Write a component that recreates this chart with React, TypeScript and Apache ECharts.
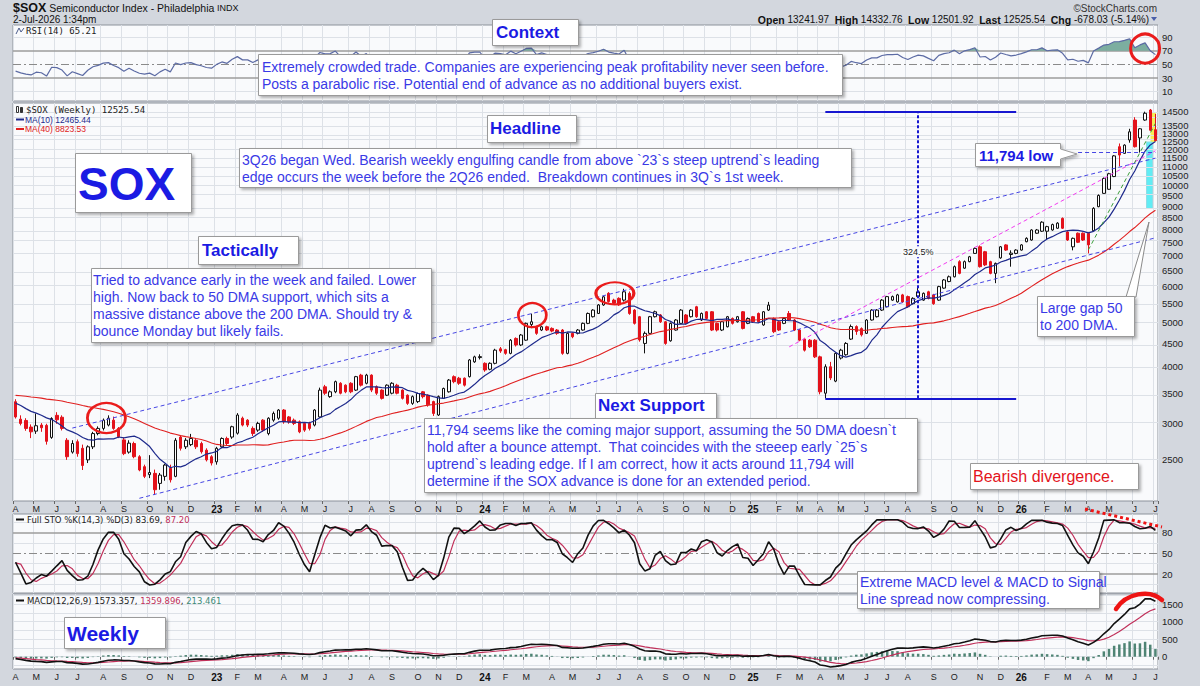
import React, { useEffect, useRef } from "react";
import * as echarts from "echarts";

// ---------- data ----------
// warm-up weekly closes before the first visible week (used only to seed MAs / oscillators)
const priorCloses = [3260, 3300, 3340, 3380, 3350, 3420, 3400, 3480, 3460, 3410, 3330, 3280, 3320, 3380, 3460, 3530, 3640, 3780, 3830, 3760, 3700, 3800, 3720, 3780, 3860, 3730, 3500, 3360, 3230, 3380, 3400, 3450, 3330, 3250, 3280, 3150, 3350, 3520, 3460];

// weekly candles [open, close, low, high]; first week ends Fri 8-Apr-2022
const ohlc2022 = [
  [3353,3105,3080,3395],[3070,3005,2975,3130],[3050,2930,2895,3085],[2950,2880,2790,2990],[2890,2970,2850,3160],
  [2980,2940,2880,3010],[2975,2745,2700,3000],[2800,3080,2780,3100],[3130,3060,3000,3180],[3100,2930,2900,3130],
  [2760,2540,2500,2790],[2600,2715,2580,2760],[2740,2580,2540,2770],[2650,2430,2375,2700],[2500,2670,2460,2690],
  [2670,2855,2640,2880],[2855,2930,2830,2960],[2930,3055,2900,3080],[2980,3085,2960,3130],[3055,2930,2910,3110],
  [2930,2810,2790,2950],[2765,2580,2560,2800],[2600,2720,2580,2760],[2715,2540,2520,2740],[2540,2375,2360,2560],
  [2415,2300,2280,2440],[2320,2345,2280,2560],[2335,2150,2093,2380],[2220,2315,2150,2340],[2300,2435,2250,2450],
  [2395,2260,2230,2440],[2300,2760,2290,2790],[2805,2650,2620,2830],[2670,2760,2640,2790],[2700,2785,2680,2850],
  [2760,2670,2640,2790],[2715,2605,2580,2740],[2625,2500,2480,2650],[2540,2460,2430,2560],
];
const ohlc2023 = [
  [2475,2650,2440,2670],[2670,2785,2650,2800],[2785,2715,2690,2810],[2805,2955,2780,2970],[2860,3135,2840,3165],
  [3085,2980,2960,3110],[3055,2980,2950,3070],[2930,2855,2820,2960],[2905,3005,2880,3030],[3055,2905,2880,3070],
  [2855,3085,2830,3100],[3055,3160,3030,3190],[3085,3215,3060,3230],[3215,3030,3000,3230],[3105,3030,3000,3120],
  [3055,3005,2980,3080],[3030,2880,2860,3050],[3005,2905,2880,3020],[3005,2930,2900,3030],[2980,3215,2960,3230],
  [3105,3555,3090,3600],[3615,3500,3470,3650],[3440,3525,3420,3550],[3525,3710,3500,3730],[3680,3500,3480,3700],
  [3645,3525,3500,3660],[3680,3525,3500,3700],[3555,3805,3540,3820],[3835,3645,3620,3860],[3680,3835,3660,3860],
  [3835,3555,3520,3850],[3615,3500,3470,3640],[3555,3410,3390,3570],[3465,3645,3450,3660],[3500,3680,3480,3700],
  [3645,3500,3480,3670],[3555,3410,3390,3570],[3465,3325,3300,3480],[3325,3440,3300,3460],[3355,3495,3330,3510],
  [3525,3440,3410,3540],[3465,3300,3270,3480],[3355,3160,3120,3370],[3135,3440,3120,3460],[3410,3585,3400,3600],
  [3525,3740,3510,3760],[3805,3710,3680,3830],[3775,3680,3650,3800],[3775,3645,3620,3790],[3805,4140,3790,4160],
  [4100,4205,4080,4230],[4190,4210,4150,4260],
];
const ohlc2024 = [
  [4070,3935,3900,4090],[3950,4070,3930,4090],[4070,4350,4050,4380],[4380,4330,4290,4420],[4360,4280,4250,4380],
  [4280,4575,4260,4600],[4615,4465,4430,4640],[4465,4695,4440,4720],[4575,4980,4560,5000],[4950,5020,4860,5230],
  [4895,4735,4700,4920],[4815,4895,4790,4920],[4895,4815,4790,4920],[4855,4790,4760,4880],[4815,4735,4700,4840],
  [4815,4280,4250,4840],[4280,4735,4260,4760],[4735,4655,4620,4760],[4735,4815,4710,4840],[4815,4980,4800,5000],
  [4980,5235,4960,5260],[5150,5325,5130,5350],[5235,5465,5220,5490],[5465,5695,5440,5720],[5795,5560,5530,5830],
  [5600,5510,5480,5640],[5650,5465,5440,5680],[5600,5840,5560,5930],[5795,5235,5200,5850],[5325,4980,4950,5350],
  [5150,4580,4540,5170],[4500,4735,4280,4780],[4735,5150,4720,5170],[5150,5280,5130,5310],[5195,5020,4990,5220],
  [5020,4500,4470,5040],[4560,4980,4540,5000],[4815,5065,4800,5090],[4980,5325,4960,5350],[5195,4980,4950,5220],
  [5150,5325,5130,5350],[5415,5150,5120,5440],[5065,5235,5040,5260],[5280,5105,5080,5300],[5280,4815,4790,5300],
  [4980,4815,4780,5000],[4815,5020,4790,5040],[4895,5150,4880,5170],[5105,4980,4950,5130],[5020,5150,5000,5170],
  [5280,4855,4830,5300],[4980,5105,4960,5130],
];
const ohlc2025 = [
  [5150,5020,4990,5170],[5235,5020,4990,5260],[4940,5280,4920,5300],[5325,5460,5300,5550],[5105,4775,4740,5130],
  [5020,4815,4790,5040],[4980,5105,4960,5130],[5235,5065,5040,5300],[5065,4815,4790,5090],[4815,4575,4550,4840],
  [4600,4350,4320,4630],[4575,4425,4400,4600],[4575,4205,4180,4600],[4205,3525,3480,4230],[3500,4000,3410,4050],
  [4000,3780,3740,4100],[3720,4280,3700,4300],[4180,4350,4150,4380],[4250,4500,4230,4530],[4600,4900,4580,4950],
  [4900,4780,4700,4930],[4850,4700,4660,4880],[4735,5065,4720,5090],[5065,5325,5050,5350],[5150,5325,5130,5350],
  [5325,5600,5300,5630],[5415,5700,5400,5720],[5600,5700,5580,5730],[5550,5750,5530,5780],[5750,5550,5520,5780],
  [5700,5415,5390,5730],[5500,5650,5480,5680],[5700,5840,5680,6000],[5600,5795,5580,5820],[5840,5650,5620,5870],
  [5750,5500,5470,5780],[5600,5995,5580,6020],[5950,6200,5930,6230],[6150,6300,6130,6340],[6300,6630,6280,6670],
  [6800,6410,6380,6850],[6580,6800,6560,6840],[6800,6970,6780,7000],[7090,7270,7070,7310],[7330,6630,6600,7380],
  [7150,6690,6650,7180],[6800,6410,6380,6830],[6410,6740,6100,6770],[6930,7330,6900,7360],[7400,7210,7180,7430],
  [7050,7100,6630,7200],[7090,7210,7060,7240],
];
const ohlc2026 = [
  [7210,7400,7190,7430],[7520,7650,7500,7690],[7585,7980,7560,8010],[7850,7980,7830,8020],[7930,8300,7900,8340],
  [7930,8115,7585,8150],[7980,8200,7950,8240],[8050,8260,8030,8300],[8460,8050,8020,8500],[7900,7585,7550,7930],
  [7330,7650,7200,7680],[7850,7500,7470,7880],[7850,7585,7550,7880],[7845,7400,7090,7880],[7950,8900,7920,8950],
  [8975,9500,8950,9550],[9600,10350,9580,10400],[9800,10600,9780,10650],[10450,11600,10420,11650],[12150,11650,11000,12350],
  [11750,12250,11720,12300],[12570,13100,12400,13300],[13900,12150,12100,14100],[12700,13300,11794,13350],[13900,14385,13850,14500],
  [14625,13204,13150,14700],[13242,12526,12502,14333],
];

const priceTicks = [2500, 3000, 3500, 4000, 4500, 5000, 5500, 6000, 6500, 7000, 7500, 8000, 8500, 9000, 9500, 10000, 10500, 11000, 11500, 12000, 12500, 13000, 13500, 14000, 14500];
const rsiTicks = [10, 30, 50, 70, 90];
const stoTicks = [20, 50, 80];
const macdTicks = [0, 500, 1000, 1500];
const monthLetters = ["J", "F", "M", "A", "M", "J", "J", "A", "S", "O", "N", "D"];

// drawn annotations, in [week index, price]
const upperChannel = [[11, 2935], [221, 11468]];
const lowerChannel = [[24, 2059], [221, 7669]];
const steepUptrend = [[150, 4423], [221, 11902]];
const greenUpper = [[203, 7524], [221, 17087]];
const greenLower = [[208, 7215], [221, 13668]];
const supportLine = [[206, 11794], [221, 11794]];
const measureLow = 3410, measureHigh = 14475;
const circles = [
  { i: 18, p: 3087, size: [38, 30], off: [-2, 0] },
  { i: 100, p: 5194, size: [28, 24], off: [1, 0] },
  { i: 116, p: 5795, size: [38, 22], off: [1, 0] },
];

// ---------- derived ----------
const ohlc = [...ohlc2022, ...ohlc2023, ...ohlc2024, ...ohlc2025, ...ohlc2026];
const N = ohlc.length;
const P = priorCloses.length;
const allC = [...priorCloses, ...ohlc.map((r) => r[1])];
const allH = [...priorCloses, ...ohlc.map((r) => r[3])];
const allL = [...priorCloses, ...ohlc.map((r) => r[2])];

const weekDates: string[] = [];
const monthLabels: string[] = [];
const monthStart: boolean[] = [];
{
  const d0 = Date.UTC(2022, 3, 8);
  let prevM = -1;
  for (let i = 0; i < N; i++) {
    const d = new Date(d0 + i * 7 * 86400000);
    const m = d.getUTCMonth();
    weekDates.push(d.toISOString().slice(0, 10));
    const st = m !== prevM;
    monthStart.push(st);
    monthLabels.push(st ? (m === 0 ? `{yr|${String(d.getUTCFullYear()).slice(2)}}` : monthLetters[m]) : "");
    prevM = m;
  }
}

const smaAt = (arr: number[], n: number, j: number) => {
  let s = 0;
  for (let k = j - n + 1; k <= j; k++) s += arr[k];
  return s / n;
};
const ema = (arr: number[], n: number) => {
  const k = 2 / (n + 1);
  const out: number[] = [];
  let e = arr[0];
  arr.forEach((v, j) => {
    e = j === 0 ? v : e + k * (v - e);
    out.push(e);
  });
  return out;
};

const ma10 = ohlc.map((_, i) => smaAt(allC, 10, P + i));
const ma40 = ohlc.map((_, i) => smaAt(allC, 40, P + i));

const e12 = ema(allC, 12), e26 = ema(allC, 26);
const macdAll = allC.map((_, j) => e12[j] - e26[j]);
const sigAll = ema(macdAll, 9);
const macd = macdAll.slice(P);
const signal = sigAll.slice(P);
const hist = macd.map((v, i) => v - signal[i]);

const rsiAll: (number | null)[] = allC.map(() => null);
{
  let ag = 0, al = 0;
  for (let j = 1; j < allC.length; j++) {
    const ch = allC[j] - allC[j - 1];
    const g = Math.max(ch, 0), l = Math.max(-ch, 0);
    if (j <= 14) { ag += g / 14; al += l / 14; }
    else { ag = (ag * 13 + g) / 14; al = (al * 13 + l) / 14; }
    if (j >= 14) rsiAll[j] = al === 0 ? 100 : 100 - 100 / (1 + ag / al);
  }
}
const rsi = rsiAll.slice(P) as number[];

const rawK = allC.map((c, j) => {
  if (j < 13) return 50;
  let hh = -Infinity, ll = Infinity;
  for (let k = j - 13; k <= j; k++) { hh = Math.max(hh, allH[k]); ll = Math.min(ll, allL[k]); }
  return hh === ll ? 50 : ((c - ll) / (hh - ll)) * 100;
});
const fullK = rawK.map((_, j) => (j < 2 ? rawK[j] : (rawK[j] + rawK[j - 1] + rawK[j - 2]) / 3));
const fullD = fullK.map((_, j) => (j < 2 ? fullK[j] : (fullK[j] + fullK[j - 1] + fullK[j - 2]) / 3));
const stoK = fullK.slice(P);
const stoD = fullD.slice(P);

// ---------- styling ----------
const FONT = '"Liberation Sans", Arial, Helvetica, sans-serif';
const NARROW = '"Liberation Sans Narrow", "Liberation Sans", Arial, sans-serif';
const MONO = '"DejaVu Sans Mono", monospace';
const DV = '"DejaVu Sans", Verdana, sans-serif';
const PANEL_BG = "#f9fafc";
const GRID_C = "#dde1e7";
const OUTER_BG = "#d3d7de";
const BORDER = "#8c929b";
const TITLE_BLUE = "#1b1be3";
const BODY_BLUE = "#3a3ae6";
const lg = Math.log10;

const isMonthStart = (idx: number) => !!monthStart[idx];
const empty = ohlc.map(() => null);

function xAxisFor(gi: number, labels: boolean) {
  return {
    type: "category", gridIndex: gi, data: weekDates, boundaryGap: true,
    axisLine: { show: false },
    axisTick: { show: labels, interval: isMonthStart, length: 3, lineStyle: { color: "#666" } },
    axisLabel: {
      show: labels, interval: isMonthStart, margin: 3, fontSize: 9, fontFamily: FONT, color: "#222",
      formatter: (_v: string, idx: number) => monthLabels[idx],
      rich: { yr: { fontSize: 10, fontWeight: "bold", color: "#111", fontFamily: FONT } },
    },
    splitLine: { show: true, interval: isMonthStart, lineStyle: { color: GRID_C, width: 1 } },
  };
}
function yAxisFor(gi: number, min: number, max: number, ticks: number[], fmt?: (v: number) => string, size = 9.5) {
  return {
    type: "value", gridIndex: gi, position: "right", min, max,
    axisLine: { show: false }, axisTick: { show: false }, splitLine: { show: false },
    axisLabel: {
      customValues: ticks, formatter: fmt ?? ((v: number) => String(Math.round(v))),
      showMinLabel: true, showMaxLabel: true, hideOverlap: false,
      fontSize: size, fontFamily: FONT, color: "#222", margin: 4,
    },
  };
}
const hline = (v: number, color = GRID_C, width = 1, type: any = "solid") => ({ yAxis: v, lineStyle: { color, width, type } });
function guide(gi: number, lines: any[]) {
  return {
    type: "line", xAxisIndex: gi, yAxisIndex: gi, data: empty, symbol: "none", silent: true,
    lineStyle: { opacity: 0 },
    markLine: { z: 1, silent: true, symbol: ["none", "none"], label: { show: false }, data: lines },
  };
}
const seg = (a: number[], b: number[], lineStyle: any) => [
  { coord: [a[0], lg(a[1])], lineStyle },
  { coord: [b[0], lg(b[1])] },
];
const DASHDOT = [8, 3, 2, 3];

// ---------- graphic helpers ----------
const txt = (x: number, y: number, text: string, o: any = {}) => ({
  type: "text", x, y, z: o.z ?? 22, silent: true,
  style: {
    text, fill: o.color ?? "#222", fontSize: o.size ?? 14, fontFamily: o.family ?? FONT,
    fontWeight: o.weight ?? "normal", align: o.align ?? "left", textAlign: o.align ?? "left",
    verticalAlign: "middle", textVerticalAlign: "middle", rich: o.rich,
  },
});
const box = (x: number, y: number, w: number, h: number) => ({
  type: "rect", z: 20, silent: true,
  shape: { x: x + 0.5, y: y + 0.5, width: w, height: h },
  style: { fill: "#ffffff", stroke: "#9a9a9a", lineWidth: 1, shadowBlur: 3, shadowOffsetX: 2, shadowOffsetY: 2, shadowColor: "rgba(0,0,0,0.3)" },
});
const lines = (x: number, y0: number, step: number, arr: string[], o: any) => arr.map((t, k) => txt(x, y0 + k * step, t, o));

function buildGraphics() {
  const g: any[] = [];
  // header
  g.push(txt(13, 8, "{a|$SOX} {b|Semiconductor Index - Philadelphia} {c|INDX}", {
    size: 10, family: NARROW, color: "#111",
    rich: { a: { fontSize: 12.5, fontWeight: "bold", fontFamily: FONT, fill: "#111" }, b: { fontSize: 10.5, fontFamily: NARROW, fill: "#111" }, c: { fontSize: 9, fontFamily: FONT, fill: "#111" } },
  }));
  g.push(txt(13, 19.5, "2-Jul-2026 1:34pm", { size: 10, family: NARROW, color: "#111" }));
  g.push(txt(1157, 8, "\u00A9StockCharts.com", { size: 10, family: FONT, color: "#333", align: "right" }));
  g.push(txt(1149, 19.5, "{b|Open} 13241.97  {b|High} 14332.76  {b|Low} 12501.92  {b|Last} 12525.54  {b|Chg} -678.03 (-5.14%)", {
    size: 10, family: NARROW, color: "#111", align: "right",
    rich: { b: { fontWeight: "bold", fontSize: 10.5, fontFamily: NARROW, fill: "#111" } },
  }));
  g.push({ type: "polygon", z: 22, silent: true, shape: { points: [[1151, 17], [1157, 17], [1154, 21]] }, style: { fill: "#4a5fa8" } });

  // legends
  g.push({ type: "polyline", z: 22, silent: true, shape: { points: [[16, 34], [19, 28], [21, 32], [24, 28]] }, style: { stroke: "#4a5a8a", lineWidth: 1, fill: "none" } });
  g.push(txt(26, 31, "RSI(14) 65.21", { size: 9, family: MONO, color: "#222" }));
  g.push({ type: "rect", z: 22, silent: true, shape: { x: 16.5, y: 106.5, width: 2, height: 6 }, style: { fill: "#fff", stroke: "#333", lineWidth: 1 } });
  g.push({ type: "rect", z: 22, silent: true, shape: { x: 20.5, y: 107.5, width: 2, height: 5 }, style: { fill: "#333", stroke: "#333", lineWidth: 1 } });
  g.push(txt(26, 110, "$SOX (Weekly) 12525.54", { size: 9, family: MONO, color: "#222" }));
  g.push({ type: "line", z: 22, silent: true, shape: { x1: 16, y1: 119.5, x2: 24, y2: 119.5 }, style: { stroke: "#1e2a8c", lineWidth: 2 } });
  g.push(txt(25, 119.5, "MA(10) 12465.44", { size: 8.5, color: "#1e2a8c" }));
  g.push({ type: "line", z: 22, silent: true, shape: { x1: 16, y1: 129, x2: 24, y2: 129 }, style: { stroke: "#e02020", lineWidth: 2 } });
  g.push(txt(25, 129, "MA(40) 8823.53", { size: 8.5, color: "#e02020" }));
  g.push({ type: "line", z: 22, silent: true, shape: { x1: 16, y1: 519.5, x2: 24, y2: 519.5 }, style: { stroke: "#111", lineWidth: 2 } });
  g.push(txt(27, 519.5, "Full STO %K(14,3) %D(3) 83.69, {r|87.20}", { size: 8.5, family: DV, color: "#222", rich: { r: { fill: "#c0305a", fontSize: 8.5, fontFamily: DV } } }));
  g.push({ type: "line", z: 22, silent: true, shape: { x1: 16, y1: 600.5, x2: 24, y2: 600.5 }, style: { stroke: "#111", lineWidth: 2 } });
  g.push(txt(27, 600.5, "MACD(12,26,9) 1573.357, {r|1359.896}, {g|213.461}", { size: 8.5, family: DV, color: "#222", rich: { r: { fill: "#c0305a", fontSize: 8.5, fontFamily: DV }, g: { fill: "#3d8a78", fontSize: 8.5, fontFamily: DV } } }));

  // highlight rectangles
  g.push({ type: "rect", z: 1, silent: true, shape: { x: 1150.5, y: 112.5, width: 5.5, height: 29.5 }, style: { fill: "#f6ee55" } });
  g.push({ type: "rect", z: 1, silent: true, shape: { x: 1146.5, y: 142, width: 6, height: 66.5 }, style: { fill: "#62ecf4", stroke: "#8fdde6", lineWidth: 1 } });

  // Context
  g.push(box(492, 19, 86, 26));
  g.push(txt(496, 32.5, "Context", { size: 17, weight: "bold", color: TITLE_BLUE }));
  g.push(box(258, 54, 584, 41));
  g.push(...lines(262, 66.5, 17, [
    "Extremely crowded trade. Companies are experiencing peak profitability never seen before.",
    "Posts a parabolic rise. Potential end of advance as no additional buyers exist.",
  ], { size: 14, color: BODY_BLUE }));

  // SOX
  g.push(box(75, 153, 116, 59));
  g.push(txt(78, 184, "SOX", { size: 46, weight: "bold", color: TITLE_BLUE }));

  // Tactically
  g.push(box(198, 236, 100, 28));
  g.push(txt(202, 250.5, "Tactically", { size: 17, weight: "bold", color: TITLE_BLUE }));
  g.push(box(91, 268, 340, 74));
  g.push(...lines(93, 280, 17, [
    "Tried to advance early in the week and failed. Lower",
    "high. Now back to 50 DMA support, which sits a",
    "massive distance above the 200 DMA. Should try &",
    "bounce Monday but likely fails.",
  ], { size: 14, color: BODY_BLUE }));

  // Headline
  g.push(box(487, 115, 89, 27));
  g.push(txt(490, 128.5, "Headline", { size: 17, weight: "bold", color: TITLE_BLUE }));
  g.push(box(239, 148, 612, 39));
  g.push(...lines(242, 159.5, 17, [
    "3Q26 began Wed. Bearish weekly engulfing candle from above `23`s steep uptrend`s leading",
    "edge occurs the week before the 2Q26 ended.  Breakdown continues in 3Q`s 1st week.",
  ], { size: 14, color: BODY_BLUE }));

  // Next Support
  g.push(box(595, 393, 121, 25));
  g.push(txt(598, 405.5, "Next Support", { size: 17, weight: "bold", color: TITLE_BLUE }));
  g.push(box(424, 418, 493, 74));
  g.push(...lines(427, 430, 17, [
    "11,794 seems like the coming major support, assuming the 50 DMA doesn`t",
    "hold after a bounce attempt.  That coincides with the steeep early `25`s",
    "uptrend`s leading edge. If I am correct, how it acts around 11,794 will",
    "determine if the SOX advance is done for an extended period.",
  ], { size: 14, color: BODY_BLUE }));

  // 11,794 low callout
  g.push({
    type: "polygon", z: 20, silent: true,
    shape: { points: [[975.5, 143.5], [1060.5, 143.5], [1060.5, 149], [1077, 154], [1060.5, 159], [1060.5, 166.5], [975.5, 166.5]] },
    style: { fill: "#fff", stroke: "#9a9a9a", lineWidth: 1, shadowBlur: 3, shadowOffsetX: 2, shadowOffsetY: 2, shadowColor: "rgba(0,0,0,0.3)" },
  });
  g.push(txt(979, 155, "11,794 low", { size: 15, weight: "bold", color: TITLE_BLUE }));

  // Large gap callout
  g.push({ type: "polygon", z: 19, silent: true, shape: { points: [[1126, 297], [1136, 297], [1149, 222]] }, style: { fill: "#fff", stroke: "#8a8a8a", lineWidth: 1 } });
  g.push(box(1037, 296, 97, 40));
  g.push(...lines(1040, 308, 17, ["Large gap 50", "to 200 DMA."], { size: 14, color: BODY_BLUE }));

  // Bearish divergence
  g.push(box(970, 463, 168, 26));
  g.push(txt(973, 476.5, "Bearish divergence.", { size: 16, color: "#e3141c" }));

  // STO dotted divergence line
  g.push({ type: "line", z: 23, silent: true, shape: { x1: 1085, y1: 509, x2: 1162, y2: 527 }, style: { stroke: "#ee1414", lineWidth: 3, lineDash: [3, 3] } });

  // MACD note
  g.push(box(857, 571, 242, 37));
  g.push(...lines(860, 581.5, 17, ["Extreme MACD level & MACD to Signal", "Line spread now compressing."], { size: 14, color: BODY_BLUE }));
  g.push({ type: "bezierCurve", z: 23, silent: true, shape: { x1: 1116, y1: 609, cpx1: 1126, cpy1: 593, cpx2: 1150, cpy2: 589, x2: 1162, y2: 600 }, style: { stroke: "#ee1414", lineWidth: 4.5, fill: "none", lineCap: "round" } });

  // Weekly
  g.push(box(64, 617, 101, 31));
  g.push(txt(67, 633, "Weekly", { size: 21, weight: "bold", color: TITLE_BLUE }));
  return g;
}

function buildOption() {
  const L = 13, R = 42;
  const gridBase = { left: L, right: R, show: true, backgroundColor: PANEL_BG, borderColor: BORDER, borderWidth: 1 };
  const blueDash = { color: "#4646e4", width: 1, type: [4, 3] };
  const magDash = { color: "#f23cf0", width: 1, type: [4, 3] };
  const greenDash = { color: "#3a9e3a", width: 1, type: [4, 3] };
  const measure = { color: "#1717d0", width: 2, type: "solid" };
  const measureDash = { color: "#1717d0", width: 2, type: [3, 2] };

  return {
    animation: false,
    backgroundColor: OUTER_BG,
    grid: [
      { ...gridBase, top: 25, height: 76 },
      { ...gridBase, top: 103, height: 398 },
      { ...gridBase, top: 514, height: 79 },
      { ...gridBase, top: 594, height: 75 },
    ],
    xAxis: [xAxisFor(0, false), xAxisFor(1, true), xAxisFor(2, false), xAxisFor(3, true)],
    yAxis: [
      yAxisFor(0, -3.7, 107.7, rsiTicks),
      yAxisFor(1, lg(2031), lg(15150), priceTicks.map(lg), (v: number) => String(Math.round(Math.pow(10, v))), 9.5),
      yAxisFor(2, -7.6, 107.2, stoTicks),
      yAxisFor(3, -350, 1785, macdTicks),
    ],
    graphic: { elements: buildGraphics() },
    series: [
      // --- RSI panel
      guide(0, [hline(10), hline(90), hline(70, "#9c9c9c", 1.5), hline(30, "#9c9c9c", 1.5), hline(50, "#8a8a8a", 1, DASHDOT)]),
      { type: "line", xAxisIndex: 0, yAxisIndex: 0, data: rsi.map(() => 70), stack: "rsiFill", symbol: "none", silent: true, lineStyle: { opacity: 0 }, z: 2 },
      { type: "line", xAxisIndex: 0, yAxisIndex: 0, data: rsi.map((v) => Math.max(v - 70, 0)), stack: "rsiFill", symbol: "none", silent: true, lineStyle: { opacity: 0 }, areaStyle: { color: "#6ea596", opacity: 0.9 }, z: 2 },
      {
        type: "line", xAxisIndex: 0, yAxisIndex: 0, data: rsi, symbol: "none", silent: true, z: 3,
        lineStyle: { color: "#5c6ba4", width: 1.2 },
        markPoint: { z: 6, silent: true, symbol: "circle", label: { show: false }, itemStyle: { color: "rgba(0,0,0,0)", borderColor: "#ea1c1c", borderWidth: 3 }, data: [{ coord: [219, 73.2], symbolSize: [29, 29] }] },
      },
      // --- main panel
      guide(1, priceTicks.map((p) => hline(lg(p)))),
      {
        type: "candlestick", xAxisIndex: 1, yAxisIndex: 1, z: 3, barWidth: 3,
        data: ohlc.map((r) => r.map(lg)),
        itemStyle: { color: "#ffffff", color0: "#e3121b", borderColor: "#111111", borderColor0: "#e3121b", borderWidth: 1 },
        markPoint: {
          z: 6, silent: true, symbol: "circle", label: { show: false },
          itemStyle: { color: "rgba(0,0,0,0)", borderColor: "#ea1c1c", borderWidth: 2.5 },
          data: circles.map((c) => ({ coord: [c.i, lg(c.p)], symbolSize: c.size, symbolOffset: c.off })),
        },
      },
      { type: "line", xAxisIndex: 1, yAxisIndex: 1, data: ma10.map(lg), symbol: "none", silent: true, z: 4, lineStyle: { color: "#1e2a8c", width: 1.2 } },
      {
        type: "line", xAxisIndex: 1, yAxisIndex: 1, data: ma40.map(lg), symbol: "none", silent: true, z: 4, clip: false,
        lineStyle: { color: "#e02020", width: 1.1 },
        markLine: {
          z: 5, silent: true, symbol: ["none", "none"], label: { show: false },
          data: [
            seg(upperChannel[0], upperChannel[1], blueDash),
            seg(lowerChannel[0], lowerChannel[1], blueDash),
            seg(steepUptrend[0], steepUptrend[1], magDash),
            seg(greenUpper[0], greenUpper[1], greenDash),
            seg(greenLower[0], greenLower[1], greenDash),
            seg(supportLine[0], supportLine[1], blueDash),
            seg([175, measureLow], [175, measureHigh], measureDash),
            seg([157, measureLow], [194, measureLow], measure),
            seg([157, measureHigh], [194, measureHigh], measure),
          ],
        },
        markPoint: {
          z: 7, silent: true,
          data: [{
            coord: [175, lg(7150)], symbol: "rect", symbolSize: [34, 11], itemStyle: { color: PANEL_BG },
            label: { show: true, position: "inside", formatter: "324.5%", color: "#222", fontSize: 9, fontFamily: FONT },
          }],
        },
      },
      // --- STO panel
      guide(2, [hline(5), hline(35), hline(65), hline(95), hline(80, "#9c9c9c", 1.5), hline(20, "#9c9c9c", 1.5), hline(50, "#8a8a8a", 1, DASHDOT)]),
      { type: "line", xAxisIndex: 2, yAxisIndex: 2, data: stoD, symbol: "none", silent: true, z: 3, lineStyle: { color: "#c0305a", width: 1.2 } },
      { type: "line", xAxisIndex: 2, yAxisIndex: 2, data: stoK, symbol: "none", silent: true, z: 4, lineStyle: { color: "#111", width: 1.6 } },
      // --- MACD panel
      guide(3, [-250, 0, 250, 500, 750, 1000, 1250, 1500, 1750].map((v) => hline(v))),
      { type: "bar", xAxisIndex: 3, yAxisIndex: 3, data: hist, barWidth: 2.5, silent: true, z: 2, itemStyle: { color: "#4f8474" } },
      { type: "line", xAxisIndex: 3, yAxisIndex: 3, data: signal, symbol: "none", silent: true, z: 3, lineStyle: { color: "#c0305a", width: 1.2 } },
      { type: "line", xAxisIndex: 3, yAxisIndex: 3, data: macd, symbol: "none", silent: true, z: 4, lineStyle: { color: "#111", width: 1.6 } },
    ],
  };
}

export default function App() {
  const ref = useRef<HTMLDivElement>(null);
  useEffect(() => {
    document.body.style.margin = "0";
    document.body.style.background = OUTER_BG;
    const chart = echarts.init(ref.current as HTMLDivElement, null, { renderer: "svg" });
    chart.setOption(buildOption() as any);
    return () => chart.dispose();
  }, []);
  return <div ref={ref} style={{ width: 1200, height: 686, background: OUTER_BG }} />;
}
